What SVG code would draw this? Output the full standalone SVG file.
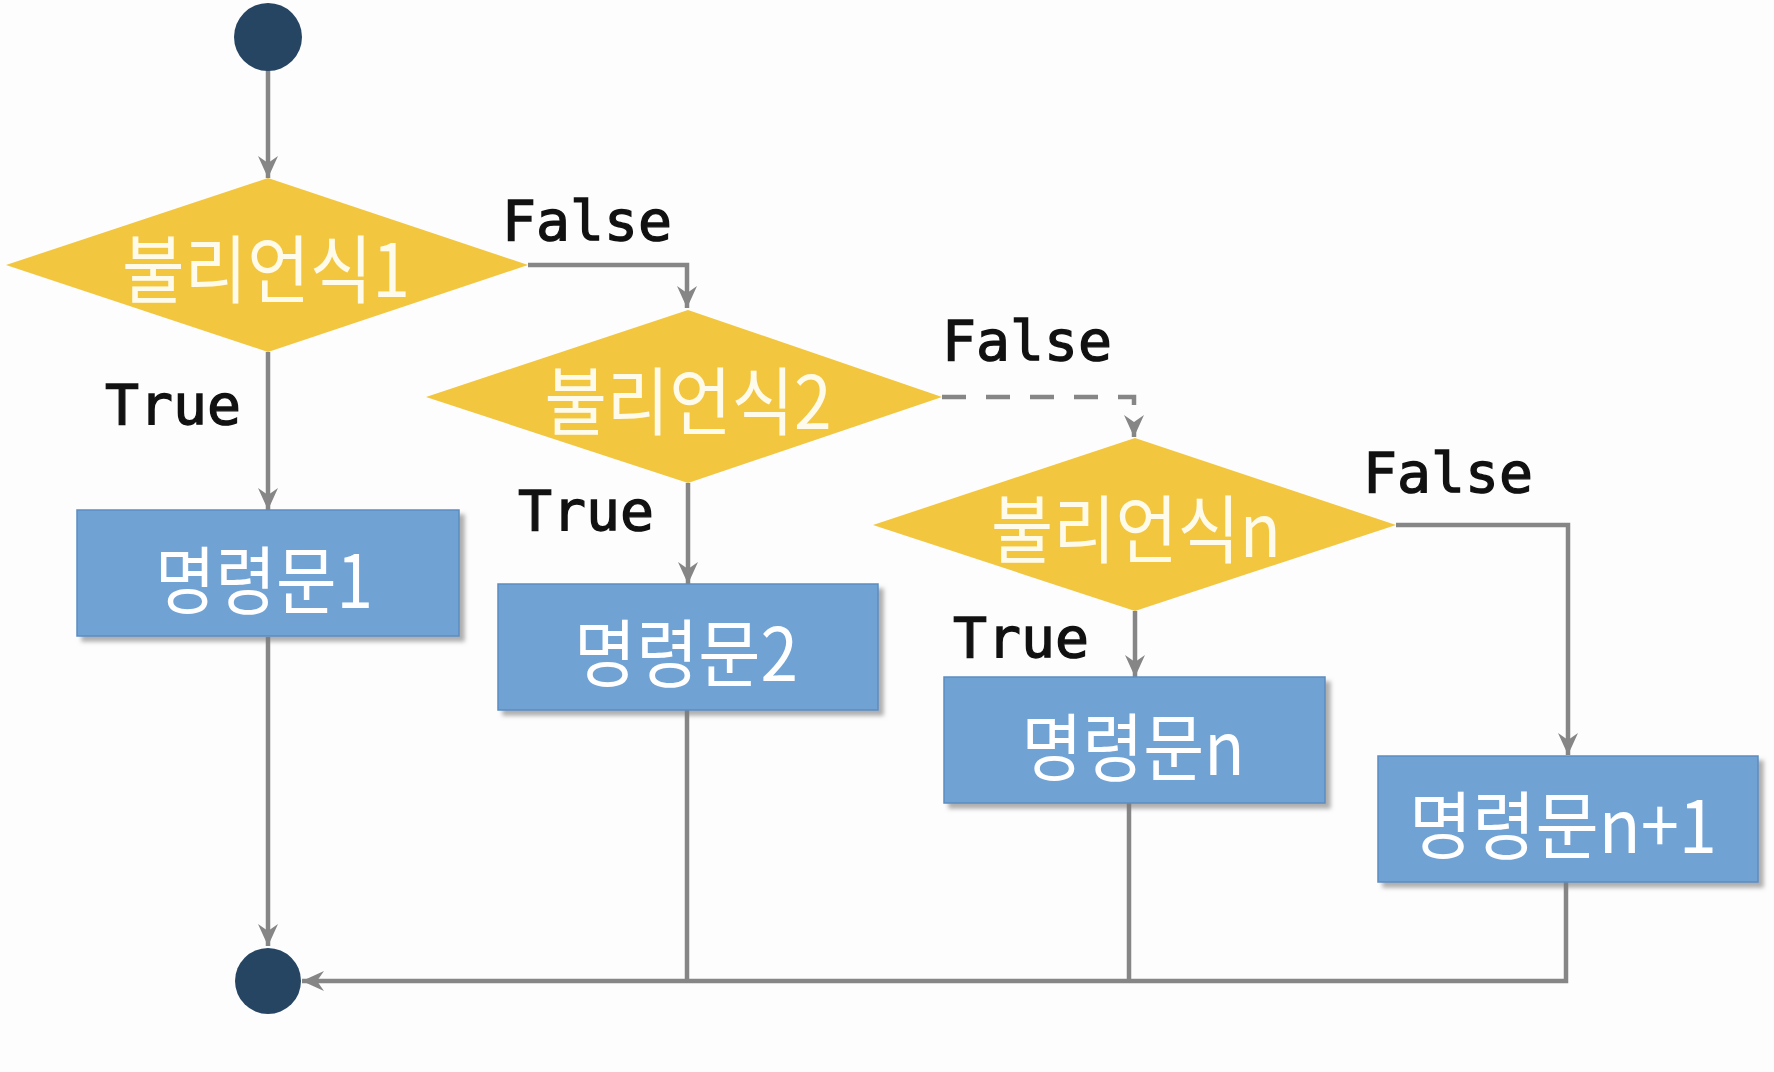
<svg xmlns="http://www.w3.org/2000/svg" width="1774" height="1072" viewBox="0 0 1774 1072">
<style>
.bg{fill:#fdfdfd}
.term{fill:#264563}
.dec{fill:#f3c63f}
.box{fill:#70a2d4;stroke:#5b8dc2;stroke-width:1.5;filter:url(#sh)}
.kt{font-family:"Noto Sans CJK KR","Noto Sans",sans-serif;font-size:74px;fill:#ffffff;text-anchor:middle;dominant-baseline:central}
.dt{fill:#fffbea}
.lb{font-family:"DejaVu Sans Mono","Liberation Mono",monospace;font-size:56px;fill:#111111;stroke:#111111;stroke-width:1.3}
.ln{fill:none;stroke:#868686;stroke-width:4.5}
.arr{marker-end:url(#ah)}
.dash{stroke-dasharray:24 20}
</style>
<defs>
<marker id="ah" markerUnits="userSpaceOnUse" markerWidth="26" markerHeight="24" refX="22" refY="11" orient="auto" viewBox="0 0 26 24">
<path d="M22,11 L0,1 L7,11 L0,21 Z" fill="#868686"/>
</marker>
<filter id="sh" x="-10%" y="-10%" width="125%" height="130%">
<feDropShadow dx="5" dy="5" stdDeviation="2" flood-color="#7a7a7a" flood-opacity="0.6"/>
</filter>
</defs>
<rect class="bg" x="0" y="0" width="1774" height="1072"/>
<g id="connectors">
<path class="ln arr" d="M268,70 V178"/>
<path class="ln arr" d="M268,352 V510"/>
<path class="ln arr" d="M528,265 H687 V308"/>
<path class="ln arr" d="M688,483 V584"/>
<path class="ln arr dash" d="M942,397 H1134 V437"/>
<path class="ln arr" d="M1135,611 V677"/>
<path class="ln arr" d="M1396,525 H1568 V755"/>
<path class="ln arr" d="M268,637 V946"/>
<path class="ln" d="M687,710 V981"/>
<path class="ln" d="M1129,803 V981"/>
<path class="ln arr" d="M1566,882 V981 H302"/>
</g>
<g id="start"><circle class="term" cx="268" cy="37" r="34"/></g>
<g id="end"><circle class="term" cx="268" cy="981" r="33"/></g>
<g id="cond1">
<polygon class="dec" points="268,178 528,265 268,352 6,265"/>
<text class="kt dt" x="266" y="264" textLength="288" lengthAdjust="spacingAndGlyphs">불리언식1</text>
</g>
<g id="cond2">
<polygon class="dec" points="688,310 942,397 688,483 426,397"/>
<text class="kt dt" x="688" y="396" textLength="287" lengthAdjust="spacingAndGlyphs">불리언식2</text>
</g>
<g id="condn">
<polygon class="dec" points="1135,438 1396,525 1135,611 873,525"/>
<text class="kt dt" x="1136" y="524" textLength="290" lengthAdjust="spacingAndGlyphs">불리언식n</text>
</g>
<g id="stmt1">
<rect class="box" x="77" y="510" width="382" height="126"/>
<text class="kt" x="264" y="575" textLength="218" lengthAdjust="spacingAndGlyphs">명령문1</text>
</g>
<g id="stmt2">
<rect class="box" x="498" y="584" width="380" height="126"/>
<text class="kt" x="686" y="648" textLength="224" lengthAdjust="spacingAndGlyphs">명령문2</text>
</g>
<g id="stmtn">
<rect class="box" x="944" y="677" width="381" height="126"/>
<text class="kt" x="1133" y="742" textLength="223" lengthAdjust="spacingAndGlyphs">명령문n</text>
</g>
<g id="stmtn1">
<rect class="box" x="1378" y="756" width="380" height="126"/>
<text class="kt" x="1563" y="820" textLength="308" lengthAdjust="spacingAndGlyphs">명령문n+1</text>
</g>
<g id="labels">
<text class="lb" x="502" y="240" textLength="170" lengthAdjust="spacingAndGlyphs">False</text>
<text class="lb" x="105" y="424" textLength="136" lengthAdjust="spacingAndGlyphs">True</text>
<text class="lb" x="942" y="360" textLength="170" lengthAdjust="spacingAndGlyphs">False</text>
<text class="lb" x="518" y="530" textLength="136" lengthAdjust="spacingAndGlyphs">True</text>
<text class="lb" x="1363" y="492" textLength="170" lengthAdjust="spacingAndGlyphs">False</text>
<text class="lb" x="953" y="657" textLength="136" lengthAdjust="spacingAndGlyphs">True</text>
</g>
</svg>
